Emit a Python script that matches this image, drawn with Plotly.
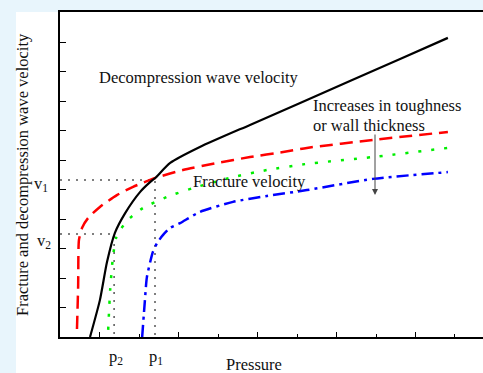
import plotly.graph_objects as go

# ---- data (axis units: one tick = 1 unit) ----
decomp_p = [0.76, 1.01, 1.19, 1.39, 1.65, 2.03, 2.28, 2.41, 2.79, 3.54, 4.81, 6.08, 7.34, 8.61, 9.82]
decomp_v = [0.00, 1.25, 2.54, 3.53, 4.20, 4.92, 5.25, 5.39, 5.90, 6.44, 7.19, 7.93, 8.68, 9.42, 10.14]

red_p = [0.43, 0.46, 0.48, 0.56, 0.71, 1.01, 1.44, 1.85, 2.41, 3.11, 3.98, 4.81, 5.65, 6.25, 7.92, 9.82]
red_v = [0.27, 1.76, 3.29, 3.70, 4.03, 4.41, 4.81, 5.09, 5.39, 5.66, 5.90, 6.10, 6.27, 6.41, 6.68, 6.95]

green_p = [1.22, 1.27, 1.34, 1.42, 1.52, 1.77, 2.10, 2.71, 3.37, 4.38, 5.24, 6.20, 7.92, 9.82]
green_v = [0.24, 1.59, 2.71, 3.36, 3.63, 4.03, 4.37, 4.75, 5.05, 5.42, 5.66, 5.86, 6.10, 6.41]

blue_p = [2.08, 2.15, 2.20, 2.35, 2.46, 2.61, 2.79, 3.04, 3.54, 4.38, 5.24, 6.25, 7.92, 9.82]
blue_v = [0.00, 1.25, 2.03, 2.88, 3.19, 3.46, 3.70, 3.86, 4.24, 4.58, 4.78, 4.98, 5.36, 5.59]

P1, P2 = 2.405, 1.37
V1, V2 = 5.32, 3.49

X_RANGE = [0, 10.709]
Y_RANGE = [0, 11.017]

FONT = "Liberation Serif, Times New Roman, serif"

# ---- layout geometry ----
W, H = 483, 373
ML, MR, MT, MB = 60, 0, 12, 36
PW, PH = W - ML - MR, H - MT - MB


def px(x):
    return (x - ML) / PW


def py(y):
    return (H - MB - y) / PH


fig = go.Figure()

guide = dict(color="#555555", width=1.5, dash="2px,6px")
fig.add_trace(go.Scatter(x=[0, P1, P1], y=[V1, V1, 0], mode="lines", line=guide, hoverinfo="skip"))
fig.add_trace(go.Scatter(x=[0, P2, P2], y=[V2, V2, 0], mode="lines", line=guide, hoverinfo="skip"))

SM = 0.6
fig.add_trace(go.Scatter(x=red_p, y=red_v, mode="lines",
                         line=dict(color="#ff0000", width=2.5, dash="13px,7px",
                                   shape="spline", smoothing=SM)))
fig.add_trace(go.Scatter(x=green_p, y=green_v, mode="lines",
                         line=dict(color="#00ee00", width=2.5, dash="3px,10px",
                                   shape="spline", smoothing=SM)))
fig.add_trace(go.Scatter(x=blue_p, y=blue_v, mode="lines",
                         line=dict(color="#0000ff", width=2.5, dash="12px,5px,3px,5px",
                                   shape="spline", smoothing=SM)))
fig.add_trace(go.Scatter(x=decomp_p, y=decomp_v, mode="lines",
                         line=dict(color="#000000", width=2.2, shape="spline", smoothing=SM)))

ann = []


def txt(t, x, y, xa="left", size=16.5, angle=0):
    ann.append(dict(text=t, x=px(x), y=py(y), xref="paper", yref="paper",
                    xanchor=xa, yanchor="middle", showarrow=False, textangle=angle,
                    font=dict(family=FONT, size=size, color="#111111")))


txt("Decompression wave velocity", 97, 78)
txt("Increases in toughness", 311, 105)
txt("or wall thickness", 311, 125)
txt("Fracture velocity", 191, 182)
txt("Fracture and decompression wave velocity", 23, 175, xa="center", angle=-90)
txt("Pressure", 254, 364, xa="center")
txt("p<sub>2</sub>", 116, 357, xa="center")
txt("p<sub>1</sub>", 156, 357, xa="center")
txt("v<sub>1</sub>", 32, 184)
txt("v<sub>2</sub>", 35, 241)

# arrow
ann.append(dict(x=px(375), y=py(195), xref="paper", yref="paper",
                axref="pixel", ayref="pixel", ax=0, ay=-62, showarrow=True, text="",
                arrowhead=2, arrowsize=1.2, arrowwidth=1, arrowcolor="#444444"))

fig.update_layout(
    width=W, height=H,
    margin=dict(l=ML, r=MR, t=MT, b=MB),
    paper_bgcolor="#e8f5fc",
    plot_bgcolor="#ffffff",
    showlegend=False,
    annotations=ann,
    shapes=[dict(type="rect", xref="paper", yref="paper", layer="below",
                 x0=px(16), x1=1.0, y0=py(H), y1=1.0,
                 fillcolor="#ffffff", line=dict(width=0))],
    xaxis=dict(range=X_RANGE, showgrid=False, zeroline=False, showticklabels=False,
               showline=True, linecolor="#000000", linewidth=1.5, mirror=True,
               ticks="inside", ticklen=5, tickwidth=1, tickcolor="#000000",
               tickmode="linear", tick0=1, dtick=2,
               minor=dict(ticks="inside", ticklen=3, tickwidth=1, tickcolor="#000000",
                          tick0=0, dtick=1)),
    yaxis=dict(range=Y_RANGE, showgrid=False, zeroline=False, showticklabels=False,
               showline=True, linecolor="#000000", linewidth=1.5,
               ticks="inside", ticklen=6, tickwidth=1, tickcolor="#000000",
               tickmode="linear", tick0=0, dtick=1),
)

fig.write_html("out.html")
